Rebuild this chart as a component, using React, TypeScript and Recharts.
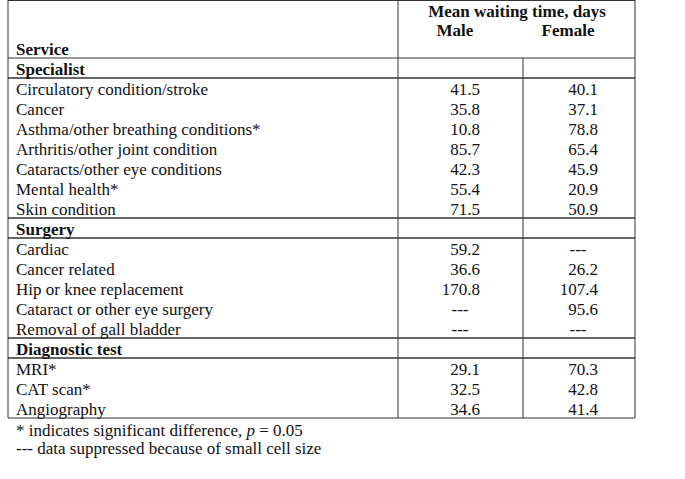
import { ComposedChart, Bar, XAxis, YAxis, ReferenceArea, ReferenceLine } from 'recharts'

const groups = ['Specialist', 'Surgery', 'Diagnostic test']

const specialistServices = [
  'Circulatory condition/stroke',
  'Cancer',
  'Asthma/other breathing conditions*',
  'Arthritis/other joint condition',
  'Cataracts/other eye conditions',
  'Mental health*',
  'Skin condition',
]
const specialistMale = [41.5, 35.8, 10.8, 85.7, 42.3, 55.4, 71.5]
const specialistFemale = [40.1, 37.1, 78.8, 65.4, 45.9, 20.9, 50.9]

const surgeryServices = [
  'Cardiac',
  'Cancer related',
  'Hip or knee replacement',
  'Cataract or other eye surgery',
  'Removal of gall bladder',
]
const surgeryMale = [59.2, 36.6, 170.8, null, null]
const surgeryFemale = [null, 26.2, 107.4, 95.6, null]

const diagnosticServices = ['MRI*', 'CAT scan*', 'Angiography']
const diagnosticMale = [29.1, 32.5, 34.6]
const diagnosticFemale = [70.3, 42.8, 41.4]

const columnTitle = 'Mean waiting time, days'
const seriesNames = ['Male', 'Female']
const rowTitle = 'Service'
const footnotes = ['* indicates significant difference, ', '--- data suppressed because of small cell size']

type Row = { service: string; group: boolean; male: number | null; female: number | null }

const blocks = [
  { services: specialistServices, male: specialistMale, female: specialistFemale },
  { services: surgeryServices, male: surgeryMale, female: surgeryFemale },
  { services: diagnosticServices, male: diagnosticMale, female: diagnosticFemale },
]

const rows: Row[] = []
groups.forEach((g, i) => {
  rows.push({ service: g, group: true, male: null, female: null })
  blocks[i].services.forEach((s, j) => {
    rows.push({ service: s, group: false, male: blocks[i].male[j], female: blocks[i].female[j] })
  })
})
const rowByName: Record<string, Row> = {}
rows.forEach((r) => (rowByName[r.service] = r))

const W = 685
const H = 479
const LEFT = 8
const RIGHT = 635
const TOP = 58
const BOTTOM = 418
const DIV1 = 398
const DIV2 = 523

const FONT = "'Liberation Serif', 'Times New Roman', serif"
const FS = 17
const INK = '#111'
const RULE = '#333'

const fmt = (v: number | null) => (v == null ? null : v.toFixed(1))

// one tick per table row: service name plus both value cells
function RowTick(props: any) {
  const { y, payload } = props
  const row = rowByName[payload?.value]
  if (!row) return null
  const m = fmt(row.male)
  const f = fmt(row.female)
  return (
    <g fontFamily={FONT} fontSize={FS} fill={INK}>
      <text x={LEFT + 8} y={y} dy="0.42em" fontWeight={row.group ? 'bold' : 'normal'}>
        {row.service}
      </text>
      {!row.group && (
        <>
          <text x={m ? 480 : 460} y={y} dy="0.42em" textAnchor={m ? 'end' : 'middle'}>
            {m ?? '---'}
          </text>
          <text x={f ? 598 : 578} y={y} dy="0.42em" textAnchor={f ? 'end' : 'middle'}>
            {f ?? '---'}
          </text>
        </>
      )}
    </g>
  )
}

function TableHeader() {
  return (
    <g>
      <line x1={LEFT} y1={0.5} x2={RIGHT} y2={0.5} stroke={RULE} />
      <line x1={LEFT} y1={0} x2={LEFT} y2={TOP} stroke={RULE} />
      <line x1={RIGHT} y1={0} x2={RIGHT} y2={TOP} stroke={RULE} />
      <line x1={DIV1} y1={0} x2={DIV1} y2={TOP} stroke={RULE} />
      <g fontFamily={FONT} fontSize={FS} fill={INK} fontWeight="bold">
        <text x={517} y={17} textAnchor="middle">{columnTitle}</text>
        <text x={455} y={36} textAnchor="middle">{seriesNames[0]}</text>
        <text x={568} y={36} textAnchor="middle">{seriesNames[1]}</text>
        <text x={LEFT + 8} y={55}>{rowTitle}</text>
      </g>
      <g fontFamily={FONT} fontSize={FS} fill={INK}>
        <text x={LEFT + 8} y={436}>
          {footnotes[0]}
          <tspan fontStyle="italic">p</tspan>
          {' = 0.05'}
        </text>
        <text x={LEFT + 8} y={454}>{footnotes[1]}</text>
      </g>
    </g>
  )
}

export default function App() {
  const sections = groups.map((g, i) => {
    const items = blocks[i].services
    return { group: g, first: items[0], last: items[items.length - 1] }
  })
  return (
    <div style={{ position: 'absolute', left: 0, top: 0, background: '#fff' }}>
      <ComposedChart
        width={W}
        height={H}
        layout="vertical"
        data={rows}
        margin={{ top: TOP, right: W - RIGHT, bottom: H - BOTTOM, left: LEFT - 1 }}
      >
        <XAxis type="number" domain={[0, RIGHT - LEFT]} hide />
        <YAxis
          type="category"
          dataKey="service"
          width={1}
          interval={0}
          axisLine={false}
          tickLine={false}
          tick={(p: any) => <RowTick {...p} />}
        />
        <Bar dataKey="male" fill="none" isAnimationActive={false} />
        {sections.map((s) => (
          <ReferenceArea key={s.group} y1={s.group} y2={s.group} fill="none" stroke={RULE} strokeWidth={1} />
        ))}
        {sections.map((s) => (
          <ReferenceArea key={s.first} y1={s.first} y2={s.last} fill="none" stroke={RULE} strokeWidth={1} />
        ))}
        <ReferenceLine x={DIV1 - LEFT} stroke={RULE} />
        <ReferenceLine x={DIV2 - LEFT} stroke={RULE} />
        <TableHeader />
      </ComposedChart>
    </div>
  )
}
